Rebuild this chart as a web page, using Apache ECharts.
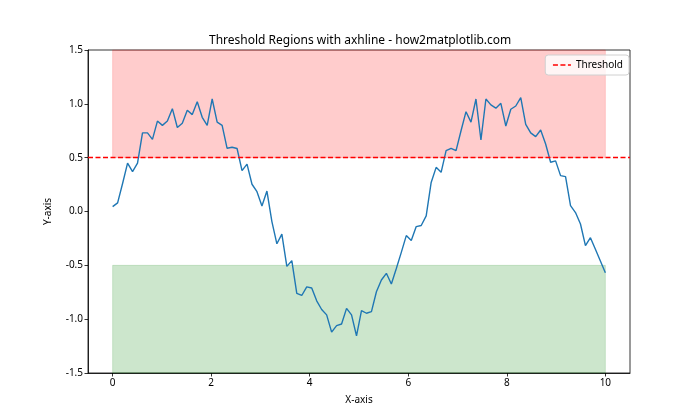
<!DOCTYPE html>
<html>
<head>
<meta charset="utf-8">
<script src="https://cdn.jsdelivr.net/npm/echarts@6/dist/echarts.min.js"></script>
<style>html,body{margin:0;padding:0;background:#fff}#c{width:700px;height:420px}</style>
</head>
<body>
<div id="c"></div>
<script>
const N = 100;
const yValues = [
 0.045,0.08,0.26,0.45,0.37,0.45,0.73,0.73,0.67,0.84,
 0.80,0.84,0.955,0.78,0.82,0.94,0.90,1.02,0.875,0.80,
 1.045,0.83,0.80,0.587,0.597,0.585,0.38,0.44,0.253,0.184,
 0.051,0.19,-0.094,-0.30,-0.21,-0.51,-0.457,-0.76,-0.78,-0.70,
 -0.71,-0.83,-0.91,-0.96,-1.12,-1.06,-1.045,-0.90,-0.96,-1.155,
 -0.92,-0.945,-0.93,-0.745,-0.636,-0.574,-0.673,-0.53,-0.38,-0.224,
 -0.27,-0.14,-0.13,-0.04,0.27,0.41,0.364,0.565,0.587,0.565,
 0.75,0.927,0.83,1.045,0.664,1.045,0.99,0.96,1.005,0.794,
 0.95,0.98,1.057,0.81,0.73,0.695,0.757,0.627,0.457,0.47,
 0.333,0.324,0.054,-0.01,-0.116,-0.317,-0.243,-0.351,-0.46,-0.568
];
const xStart = 0, xEnd = 10;
const xValues = yValues.map((_, i) => xStart + (xEnd - xStart) * i / (N - 1));
const threshold = 0.5;
const upperRegion = [0.5, 1.5];
const lowerRegion = [-1.5, -0.5];
const xTicks = [0, 2, 4, 6, 8, 10];
const seriesName = 'Threshold';
const titleText = 'Threshold Regions with axhline - how2matplotlib.com';

const FONT = 'Noto Sans';
const chart = echarts.init(document.getElementById('c'), null, {renderer: 'canvas'});
const fmt = v => v.toFixed(1);
chart.setOption({
  animation: false,
  backgroundColor: '#fff',
  title: {text: titleText, left: 204, top: 30,
    textStyle: {fontFamily: FONT, fontSize: 12, fontWeight: 'normal', color: '#000'}},
  legend: {
    data: [seriesName],
    right: 71, top: 55, itemWidth: 18, itemHeight: 10, itemGap: 6,
    backgroundColor: 'rgba(255,255,255,0.8)', borderColor: '#d0d0d0', borderWidth: 1,
    borderRadius: 3, padding: [5, 6, 5, 7],
    itemStyle: {opacity: 0},
    lineStyle: {color: '#ff0000', type: [5, 2.5], width: 1.4},
    textStyle: {fontFamily: FONT, fontSize: 10, color: '#000'}
  },
  grid: {left: 88, right: 70, top: 50, bottom: 47, show: true, borderColor: '#000', borderWidth: 0.8},
  xAxis: {
    type: 'value', min: -0.5, max: 10.5,
    name: 'X-axis', nameLocation: 'middle', nameGap: 22,
    nameTextStyle: {fontFamily: FONT, fontSize: 10, color: '#000'},
    splitLine: {show: false},
    axisLine: {show: true, onZero: false, lineStyle: {color: '#000', width: 0.8}},
    axisTick: {show: true, customValues: xTicks, length: 3.5, lineStyle: {color: '#000', width: 0.8}},
    axisLabel: {customValues: xTicks, fontFamily: FONT, fontSize: 10, color: '#000', margin: 5}
  },
  yAxis: {
    type: 'value', min: -1.5, max: 1.5, interval: 0.5,
    name: 'Y-axis', nameLocation: 'middle', nameGap: 35, nameRotate: 90,
    nameTextStyle: {fontFamily: FONT, fontSize: 10, color: '#000'},
    splitLine: {show: false},
    axisLine: {show: true, onZero: false, lineStyle: {color: '#000', width: 0.8}},
    axisTick: {show: true, length: 3.5, lineStyle: {color: '#000', width: 0.8}},
    axisLabel: {fontFamily: FONT, fontSize: 10, color: '#000', margin: 5, formatter: fmt}
  },
  series: [
    {
      name: 'data', type: 'line', showSymbol: false, symbol: 'none',
      data: xValues.map((x, i) => [x, yValues[i]]),
      lineStyle: {color: '#1f77b4', width: 1.4}, z: 3,
      markArea: {
        silent: true,
        data: [
          [{xAxis: xStart, yAxis: upperRegion[0], itemStyle: {color: 'rgba(255,0,0,0.2)', borderColor: 'rgba(255,0,0,0.15)', borderWidth: 1}},
           {xAxis: xEnd, yAxis: upperRegion[1]}],
          [{xAxis: xStart, yAxis: lowerRegion[0], itemStyle: {color: 'rgba(0,128,0,0.2)', borderColor: 'rgba(0,128,0,0.15)', borderWidth: 1}},
           {xAxis: xEnd, yAxis: lowerRegion[1]}]
        ]
      }
    },
    {
      name: seriesName, type: 'line', data: [], symbol: 'none',
      lineStyle: {color: '#ff0000', type: [5, 2.5], width: 1.4},
      itemStyle: {color: '#ff0000'},
      markLine: {
        silent: true, symbol: 'none', label: {show: false},
        lineStyle: {color: '#ff0000', type: [5, 2.5], width: 1.4},
        data: [{yAxis: threshold}]
      }, z: 4
    }
  ]
});
</script>
</body>
</html>
